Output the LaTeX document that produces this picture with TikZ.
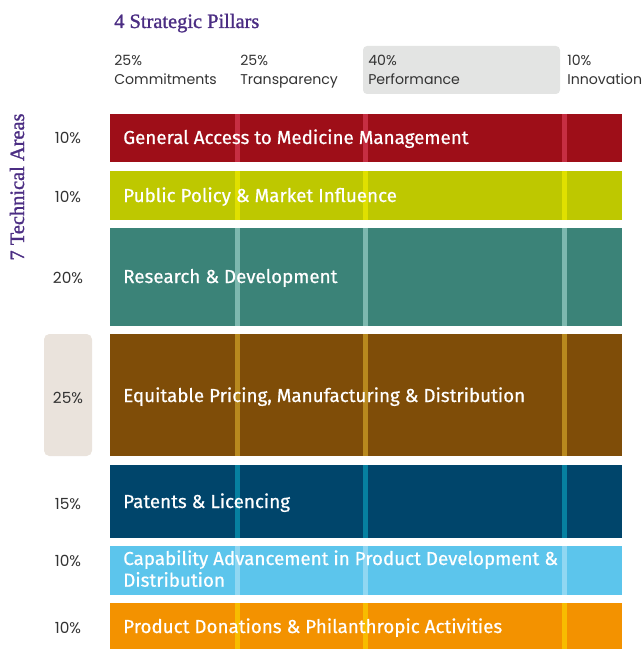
\documentclass[tikz,border=0pt]{standalone}
\usepackage{fontspec}
\setmainfont{Fira Sans}
\newfontfamily\barfont[FakeBold=0.6]{Fira Sans}
\newfontfamily\pilfont{Poppins}
\newfontfamily\serfont[FakeBold=1.2]{Liberation Serif}
\definecolor{ttl}{HTML}{4B2D83}
\definecolor{gtxt}{HTML}{333333}
\definecolor{cRed}{HTML}{9E0E18}\definecolor{sRed}{HTML}{C62E42}
\definecolor{cYel}{HTML}{BEC800}\definecolor{sYel}{HTML}{E0E000}
\definecolor{cTeal}{HTML}{3B8378}\definecolor{sTeal}{HTML}{7DB8AF}
\definecolor{cBrn}{HTML}{7F4D08}\definecolor{sBrn}{HTML}{B8891E}
\definecolor{cDbl}{HTML}{00456B}\definecolor{sDbl}{HTML}{0680A0}
\definecolor{cLbl}{HTML}{5CC5EC}\definecolor{sLbl}{HTML}{90D7F2}
\definecolor{cOra}{HTML}{F39200}\definecolor{sOra}{HTML}{F8BC00}
\definecolor{pilbox}{HTML}{E3E4E3}
\definecolor{pctbox}{HTML}{EAE3DC}
\begin{document}
\begin{tikzpicture}[x=0.75pt,y=-0.75pt,
  title/.style={font=\serfont\fontsize{15.3}{17}\selectfont, text=ttl, inner sep=0},
  pillar/.style={font=\pilfont\fontsize{10.6}{13}\selectfont, text=gtxt, anchor=base west, inner sep=0},
  pct/.style={font=\pilfont\fontsize{11.5}{13}\selectfont, text=gtxt, anchor=base, inner sep=0},
  barlabel/.style={font=\barfont\fontsize{14.1}{16}\selectfont, text=white, anchor=base west, inner sep=0},
  strip/.style={fill=#1, draw=none}]
\useasboundingbox (0,0) rectangle (642,649);

% header
\node[title, anchor=base west] (hdr) at (114,28) {4 Strategic Pillars};
\node[title, anchor=base, rotate=90] (vt) at (24,187) {7 Technical Areas};

% pillar highlight box
\fill[pilbox, rounded corners=3] (363,46) rectangle (560,94);

% pillar labels
\node[pillar] (p1a) at (114,66) {25\%};
\node[pillar] (p1b) at (114,85) {Commitments};
\node[pillar] (p2a) at (240,66) {25\%};
\node[pillar] (p2b) at (240,85) {Transparency};
\node[pillar] (p3a) at (368,66) {40\%};
\node[pillar] (p3b) at (368,85) {Performance};
\node[pillar] (p4a) at (567,66) {10\%};
\node[pillar] (p4b) at (567,85) {Innovation};

% percent highlight box
\fill[pctbox, rounded corners=4] (44,334) rectangle (92,456);

% bars: y1 y2 fill strip
\foreach \ya/\yb/\cf/\cs in {114/162.5/cRed/sRed, 171/219.5/cYel/sYel, 228/325.5/cTeal/sTeal,
  334/455.5/cBrn/sBrn, 465/537.5/cDbl/sDbl, 546/595/cLbl/sLbl, 603/649/cOra/sOra}{
  \fill[\cf] (110,\ya) rectangle (622,\yb);
  \foreach \xs in {235,363,562}{
    \fill[strip=\cs] (\xs,\ya) rectangle (\xs+5,\yb);
  }
}

% bar labels
\node[barlabel] (l1) at (123,144) {General Access to Medicine Management};
\node[barlabel] (l2) at (123,202) {Public Policy \& Market Influence};
\node[barlabel] (l3) at (123,283) {Research \& Development};
\node[barlabel] (l4) at (123,402) {Equitable Pricing, Manufacturing \& Distribution};
\node[barlabel] (l5) at (123,508) {Patents \& Licencing};
\node[barlabel] (l6a) at (123,565) {Capability Advancement in Product Development \&};
\node[barlabel] (l6b) at (123,586.7) {Distribution};
\node[barlabel] (l7) at (123,633) {Product Donations \& Philanthropic Activities};

% percentages
\node[pct] (q1) at (68,144) {10\%};
\node[pct] (q2) at (68,202) {10\%};
\node[pct] (q3) at (68,283) {20\%};
\node[pct] (q4) at (68,403) {25\%};
\node[pct] (q5) at (68,509) {15\%};
\node[pct] (q6) at (68,566) {10\%};
\node[pct] (q7) at (68,633) {10\%};
\end{tikzpicture}
\end{document}
